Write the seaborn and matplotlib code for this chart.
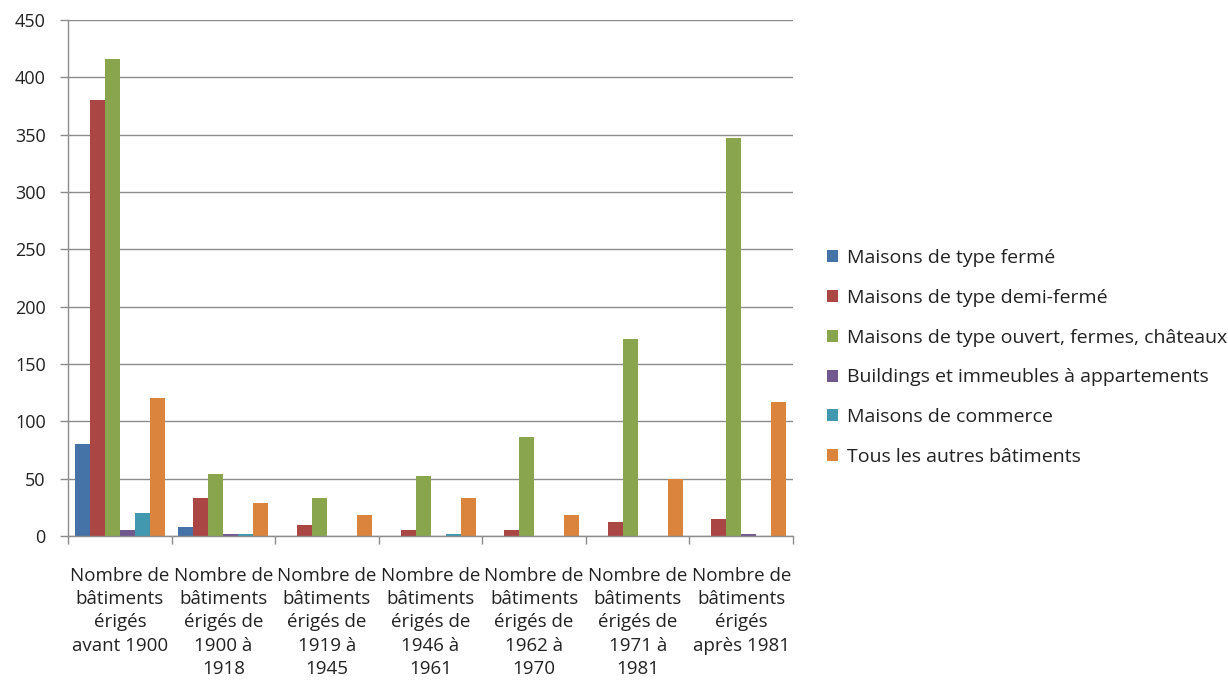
import matplotlib
matplotlib.use("Agg")
import matplotlib.pyplot as plt
import seaborn as sns
import pandas as pd
from matplotlib.patches import Patch

categories = [
    "Nombre de\nbâtiments\nérigés\navant 1900",
    "Nombre de\nbâtiments\nérigés de\n1900 à\n1918",
    "Nombre de\nbâtiments\nérigés de\n1919 à\n1945",
    "Nombre de\nbâtiments\nérigés de\n1946 à\n1961",
    "Nombre de\nbâtiments\nérigés de\n1962 à\n1970",
    "Nombre de\nbâtiments\nérigés de\n1971 à\n1981",
    "Nombre de\nbâtiments\nérigés\naprès 1981",
]
series_names = [
    "Maisons de type fermé",
    "Maisons de type demi-fermé",
    "Maisons de type ouvert, fermes, châteaux",
    "Buildings et immeubles à appartements",
    "Maisons de commerce",
    "Tous les autres bâtiments",
]
ferme = [80, 8, 0, 0, 0, 0, 0]
demi_ferme = [380, 33, 10, 5, 5, 12, 15]
ouvert = [416, 54, 33, 52, 86, 172, 347]
buildings = [5, 2, 0, 0, 0, 0, 2]
commerce = [20, 2, 0, 2, 0, 0, 0]
autres = [120, 29, 18, 33, 18, 50, 117]
colors = ["#4572A7", "#AA4643", "#89A54E", "#71588F", "#4198AF", "#DB843D"]

values = [ferme, demi_ferme, ouvert, buildings, commerce, autres]
rows = []
for name, vals in zip(series_names, values):
    for cat, v in zip(categories, vals):
        rows.append({"cat": cat, "serie": name, "val": v})
df = pd.DataFrame(rows)

sns.set_theme(style="white")
plt.rcParams["font.family"] = ["Open Sans", "DejaVu Sans"]

fig = plt.figure(figsize=(12.28, 6.91), dpi=100)
ax = fig.add_axes([0.0554, 0.2243, 0.5904, 0.7467])

sns.barplot(data=df, x="cat", y="val", hue="serie", order=categories,
            hue_order=series_names, palette=colors, width=0.87, gap=0,
            saturation=1, ax=ax, legend=False, edgecolor="none", errorbar=None)

ax.set_ylim(0, 450)
ax.set_xlim(-0.5, len(categories) - 0.5)
ax.set_yticks(range(0, 451, 50))
ax.yaxis.grid(True, color="#8c8c8c", linewidth=1)
ax.set_axisbelow(True)
ax.set_xlabel("")
ax.set_ylabel("")
for s in ["top", "right"]:
    ax.spines[s].set_visible(False)
for s in ["left", "bottom"]:
    ax.spines[s].set_color("#8c8c8c")
    ax.spines[s].set_linewidth(1)

ax.tick_params(axis="y", length=6, color="#8c8c8c", width=1, labelsize=13,
               labelcolor="#222222", pad=10, left=True)
ax.set_xticks(range(len(categories)))
ax.set_xticklabels(categories, fontsize=13.5, color="#222222", linespacing=1.38,
                   va="top", ha="center")
ax.tick_params(axis="x", which="major", length=0, pad=22)
ax.set_xticks([i - 0.5 for i in range(len(categories) + 1)], minor=True)
ax.tick_params(axis="x", which="minor", length=6, color="#8c8c8c", width=1, bottom=True)

handles = [Patch(facecolor=c, edgecolor="none", label=n) for c, n in zip(colors, series_names)]
fig.legend(handles=handles, loc="center left", bbox_to_anchor=(0.6735, 0.4826),
           frameon=False, fontsize=14, labelcolor="#222222", handlelength=0.57,
           handleheight=0.57, handletextpad=0.45, labelspacing=1.12,
           borderaxespad=0, borderpad=0)

fig.savefig("out.png", dpi=100)
